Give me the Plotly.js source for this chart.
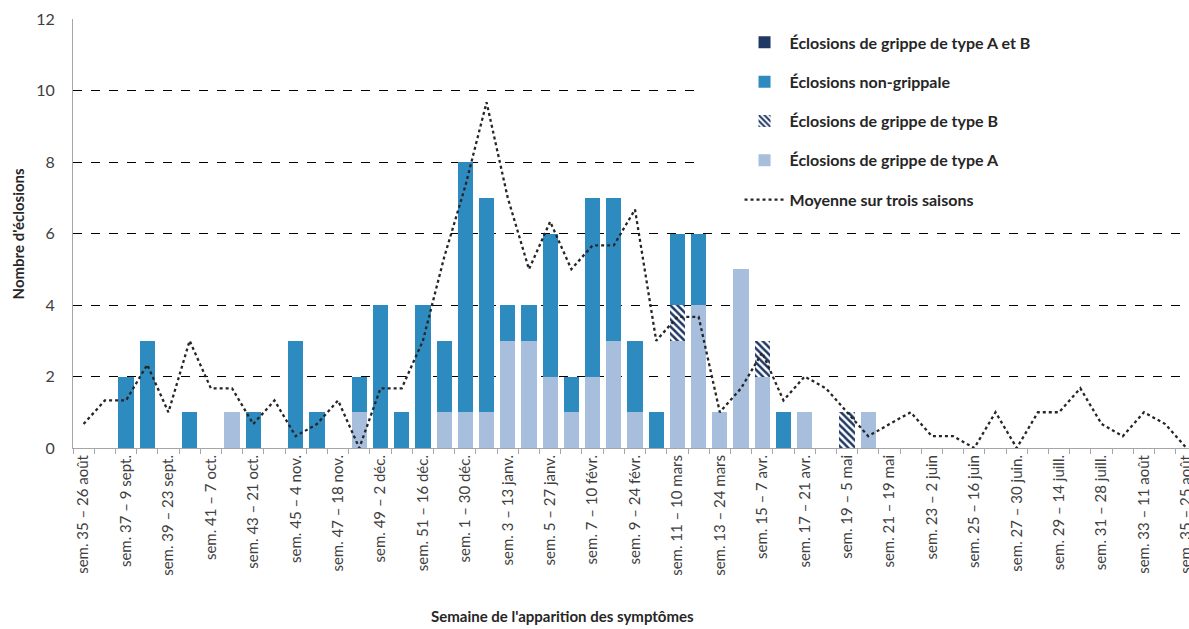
<!DOCTYPE html>
<html>
<head>
<meta charset="utf-8">
<script src="https://cdn.plot.ly/plotly-3.0.1.min.js"></script>
<style>
html, body { margin:0; padding:0; overflow:hidden; background:#fff; }
#chart { width:1200px; height:629px; }
</style>
</head>
<body>
<div id="chart"></div>
<script>
// Categories: symptom-onset weeks (sem. 35 to sem. 35 of the following year)
const categories = [
  "sem. 35 – 26 août","sem. 36","sem. 37 – 9 sept.","sem. 38","sem. 39 – 23 sept.","sem. 40",
  "sem. 41 – 7 oct.","sem. 42","sem. 43 – 21 oct.","sem. 44","sem. 45 – 4 nov.","sem. 46",
  "sem. 47 – 18 nov.","sem. 48","sem. 49 – 2 déc.","sem. 50","sem. 51 – 16 déc.","sem. 52",
  "sem. 1 – 30 déc.","sem. 2","sem. 3 – 13 janv.","sem. 4","sem. 5 – 27 janv.","sem. 6",
  "sem. 7 – 10 févr.","sem. 8","sem. 9 – 24 févr.","sem. 10","sem. 11 – 10 mars","sem. 12",
  "sem. 13 – 24 mars","sem. 14","sem. 15 – 7 avr.","sem. 16","sem. 17 – 21 avr.","sem. 18",
  "sem. 19 – 5 mai","sem. 20","sem. 21 – 19 mai","sem. 22","sem. 23 – 2 juin","sem. 24",
  "sem. 25 – 16 juin","sem. 26","sem. 27 – 30 juin.","sem. 28","sem. 29 – 14 juill.","sem. 30",
  "sem. 31 – 28 juill.","sem. 32","sem. 33 – 11 août","sem. 34","sem. 35 – 25 août"
];

// Series values
const fluA = [0,0,0,0,0,0,0,1,0,0, 0,0,0,1,0,0,0,1,1,1, 3,3,2,1,2,3,1,0,3,4, 1,5,2,0,1,0,0,1,0,0, 0,0,0,0,0,0,0,0,0,0, 0,0,0];
const fluB = [0,0,0,0,0,0,0,0,0,0, 0,0,0,0,0,0,0,0,0,0, 0,0,0,0,0,0,0,0,1,0, 0,0,1,0,0,0,1,0,0,0, 0,0,0,0,0,0,0,0,0,0, 0,0,0];
const nonFlu = [0,0,2,3,0,1,0,0,1,0, 3,1,0,1,4,1,4,2,7,6, 1,1,4,1,5,4,2,1,2,2, 0,0,0,1,0,0,0,0,0,0, 0,0,0,0,0,0,0,0,0,0, 0,0,0];
const fluAB = [0,0,0,0,0,0,0,0,0,0, 0,0,0,0,0,0,0,0,0,0, 0,0,0,0,0,0,0,0,0,0, 0,0,0,0,0,0,0,0,0,0, 0,0,0,0,0,0,0,0,0,0, 0,0,0];
const avg3 = [0.67,1.33,1.33,2.33,1,3,1.67,1.67,0.67,1.33,
              0.33,0.67,1.33,0,1.67,1.67,3,5.33,7.33,9.67,
              7,5,6.33,5,5.67,5.67,6.67,3,3.67,3.67,
              1,1.67,2.67,1.33,2,1.67,1,0.33,0.67,1,
              0.33,0.33,0,1,0,1,1,1.67,0.67,0.33,
              1,0.67,0];

// Tick labels: every other week is labelled
const tickIdx = categories.map((c, i) => i).filter(i => i % 2 === 0);
const tickLabels = tickIdx.map(i => categories[i]);
const xIdx = categories.map((c, i) => i);

const FONT = "Lato, 'Open Sans', sans-serif";

const traces = [
  { type:'bar', name:'Éclosions de grippe de type A', x:xIdx, y:fluA,
    marker:{color:'#A7BEDD'}, legendrank:4, legendgroup:'a', hoverinfo:'skip' },
  { type:'bar', name:'Éclosions de grippe de type B', x:xIdx, y:fluB,
    marker:{color:'#ffffff', pattern:{shape:'\\', fgcolor:'#1F3864', bgcolor:'#ffffff', size:5, solidity:0.5}},
    legendrank:3, legendgroup:'b', hoverinfo:'skip' },
  { type:'bar', name:'Éclosions non-grippale', x:xIdx, y:nonFlu,
    marker:{color:'#2E8BC0'}, legendrank:2, legendgroup:'c', hoverinfo:'skip' },
  { type:'bar', name:'Éclosions de grippe de type A et B', x:xIdx, y:fluAB,
    marker:{color:'#1F3864'}, legendrank:1, legendgroup:'d', hoverinfo:'skip' },
  { type:'scatter', mode:'lines', name:'Moyenne sur trois saisons', x:xIdx, y:avg3,
    line:{color:'#262626', width:2.3, dash:'dot'}, legendrank:5, legendgroup:'e', hoverinfo:'skip' }
];

const layout = {
  width:1200, height:629,
  margin:{l:73, r:3, t:19, b:181},
  paper_bgcolor:'#ffffff', plot_bgcolor:'#ffffff',
  barmode:'stack', bargap:0.28,
  font:{family:FONT, color:'#404040', size:15},
  showlegend:true,
  legend:{
    x:0.593, y:0.985, xanchor:'left', yanchor:'top',
    bgcolor:'rgba(0,0,0,0)', borderwidth:0,
    traceorder:'grouped', tracegroupgap:15.5, itemwidth:40,
    font:{family:FONT, size:16, color:'#262626', weight:'bold'}
  },
  xaxis:{
    range:[-0.5, 52.5], showgrid:false, zeroline:false,
    tickmode:'array', tickvals:tickIdx, ticktext:tickLabels, tickangle:-90,
    ticks:'', showline:true, linecolor:'#A6A6A6', linewidth:1,
    tickfont:{family:FONT, size:15, color:'#404040'},
    minor:{ticks:'outside', tick0:-0.5, dtick:1, ticklen:5, tickcolor:'#A6A6A6', tickwidth:1, showgrid:false}
  },
  yaxis:{
    range:[0, 12], dtick:2, showgrid:true, gridcolor:'#000000', griddash:'dash', gridwidth:1,
    zeroline:false, showline:true, linecolor:'#A6A6A6', linewidth:1, ticks:'',
    ticklabelstandoff:14, tickfont:{family:FONT, size:16, color:'#404040'}
  },
  shapes:[
    { type:'rect', xref:'paper', yref:'paper', x0:0.555, x1:1.01, y0:0.53, y1:0.975,
      fillcolor:'#ffffff', line:{width:0}, layer:'above' }
  ],
  annotations:[
    { text:"Semaine de l'apparition des symptômes", xref:'paper', yref:'paper',
      x:(562-73)/1124, y:-0.392, xanchor:'center', yanchor:'middle', showarrow:false,
      font:{family:FONT, size:15, color:'#262626', weight:'bold'} },
    { text:"Nombre d'éclosions", xref:'paper', yref:'paper', textangle:-90,
      x:-0.049, y:0.5, xanchor:'center', yanchor:'middle', showarrow:false,
      font:{family:FONT, size:15, color:'#262626', weight:'bold'} }
  ]
};

Plotly.newPlot('chart', traces, layout, {displayModeBar:false, staticPlot:true});
</script>
</body>
</html>
